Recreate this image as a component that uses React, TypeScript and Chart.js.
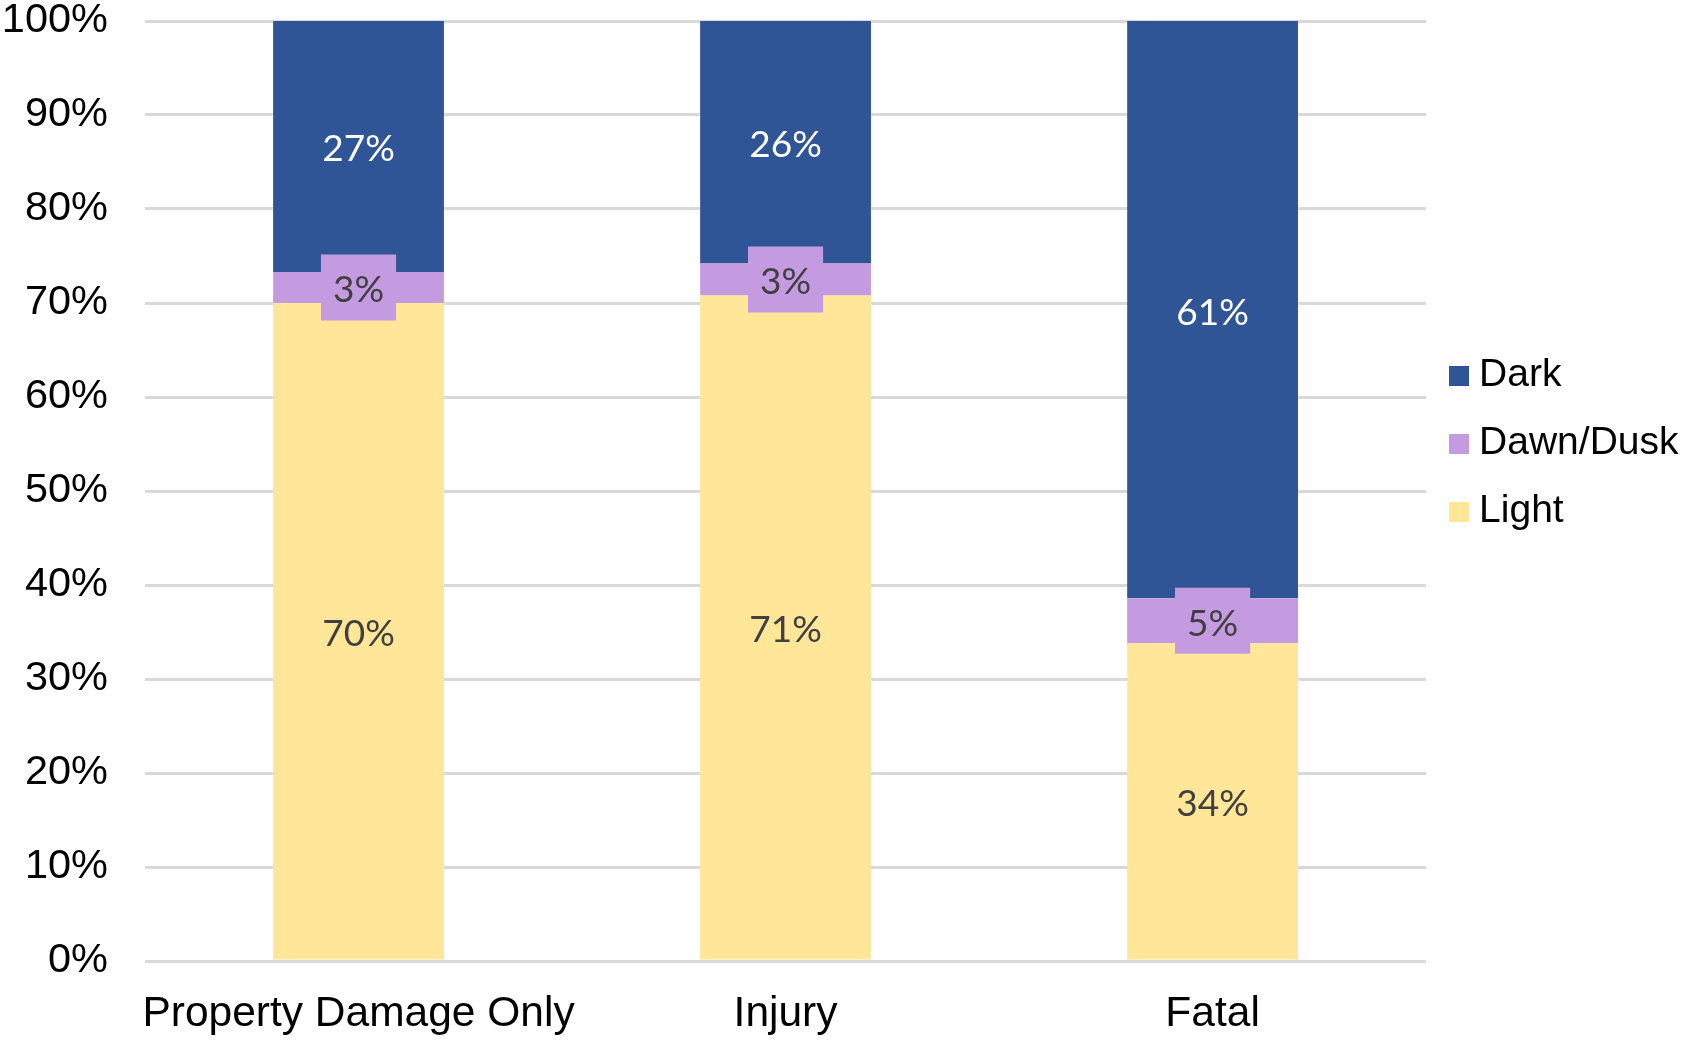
import React, { useEffect, useRef } from "react";
import { Chart, registerables } from "chart.js";

Chart.register(...registerables);

const categories = ["Property Damage Only", "Injury", "Fatal"];
const seriesNames = ["Light", "Dawn/Dusk", "Dark"];
const lightValues = [70.0, 70.8, 33.8];
const dawnDuskValues = [3.3, 3.4, 4.8];
const darkValues = [26.7, 25.8, 61.4];
const seriesColors = ["#FFE699", "#C49BE0", "#2F5597"];
const labelColors = ["#404040", "#404040", "#FFFFFF"];
const yTickValues = [0, 10, 20, 30, 40, 50, 60, 70, 80, 90, 100];

const AXIS_FONT = "'Liberation Sans', Arial, sans-serif";
const LABEL_FONT = "Lato, 'Open Sans', sans-serif";

function swatch(color: string) {
  const c = document.createElement("canvas");
  c.width = 20;
  c.height = 20;
  const g = c.getContext("2d");
  if (g) {
    g.fillStyle = color;
    g.fillRect(0, 0, 20, 20);
  }
  return c;
}

const segmentLabels = {
  id: "segmentLabels",
  afterDatasetsDraw(chart: any) {
    const ctx = chart.ctx;
    ctx.save();
    ctx.font = `37px ${LABEL_FONT}`;
    ctx.textAlign = "center";
    ctx.textBaseline = "middle";
    chart.data.datasets.forEach((ds: any, di: number) => {
      const meta = chart.getDatasetMeta(di);
      meta.data.forEach((bar: any, i: number) => {
        const v = ds.data[i];
        const text = Math.round(v) + "%";
        const p = bar.getProps(["x", "y", "base"], true);
        const cy = (p.y + p.base) / 2;
        const w = ctx.measureText(text).width + 24;
        const h = 66;
        ctx.fillStyle = ds.backgroundColor;
        ctx.fillRect(p.x - w / 2, cy - h / 2, w, h);
        ctx.fillStyle = labelColors[di];
        ctx.fillText(text, p.x, cy + 3);
      });
    });
    ctx.restore();
  },
};

const legendPlacement = {
  id: "legendPlacement",
  afterLayout(chart: any) {
    const lg = chart.legend;
    if (!lg) return;
    lg.left = chart.chartArea.right + 3.5;
    lg.top = 327;
  },
};

export default function App() {
  const ref = useRef<HTMLCanvasElement | null>(null);

  useEffect(() => {
    if (!ref.current) return;
    const valueSets = [lightValues, dawnDuskValues, darkValues];
    const chart = new Chart(ref.current, {
      type: "bar",
      data: {
        labels: categories,
        datasets: seriesNames.map((name, i) => ({
          label: name,
          data: valueSets[i],
          backgroundColor: seriesColors[i],
          borderColor: seriesColors[i],
          borderWidth: 0,
          barPercentage: 0.4,
          categoryPercentage: 1,
        })),
      },
      options: {
        animation: false,
        responsive: false,
        devicePixelRatio: 1,
        layout: {
          autoPadding: false,
          padding: { top: 21, left: 0, right: 0, bottom: 0 },
        },
        scales: {
          x: {
            stacked: true,
            grid: { display: false, drawTicks: false },
            border: { display: false },
            ticks: {
              font: { family: AXIS_FONT, size: 42.5 },
              color: "#000000",
              padding: 28,
              maxRotation: 0,
              minRotation: 0,
              autoSkip: false,
            },
            afterFit: (s: any) => {
              s.height = 79;
              s.paddingLeft = 0;
              s.paddingRight = 0;
            },
          },
          y: {
            stacked: true,
            min: 0,
            max: 100,
            afterBuildTicks: (s: any) => {
              s.ticks = yTickValues.map((v) => ({ value: v }));
            },
            ticks: {
              callback: (v: any) => v + "%",
              font: { family: AXIS_FONT, size: 41.5, lineHeight: 1 },
              color: "#000000",
              padding: 37,
            },
            grid: { color: "#D9D9D9", lineWidth: 3, drawTicks: false },
            border: { display: false },
            afterFit: (s: any) => {
              s.width = 145;
              s.paddingTop = 0;
              s.paddingBottom = 0;
            },
          },
        },
        plugins: {
          legend: {
            position: "right",
            align: "start",
            reverse: true,
            maxWidth: 259,
            labels: {
              usePointStyle: true,
              pointStyleWidth: 1,
              boxHeight: 20,
              padding: 29,
              color: "#000000",
              font: { family: AXIS_FONT, size: 39 },
              generateLabels: (chart: any) => {
                const items = (Chart as any).defaults.plugins.legend.labels.generateLabels(chart);
                return items.map((it: any) => ({ ...it, pointStyle: swatch(it.fillStyle) }));
              },
            },
          },
          tooltip: { enabled: false },
        },
      } as any,
      plugins: [segmentLabels, legendPlacement],
    });
    return () => chart.destroy();
  }, []);

  return (
    <div style={{ position: "fixed", left: 0, top: 0, width: 1685, height: 1040, background: "#fff" }}>
      <canvas ref={ref} width={1685} height={1040} style={{ width: 1685, height: 1040 }} />
    </div>
  );
}
